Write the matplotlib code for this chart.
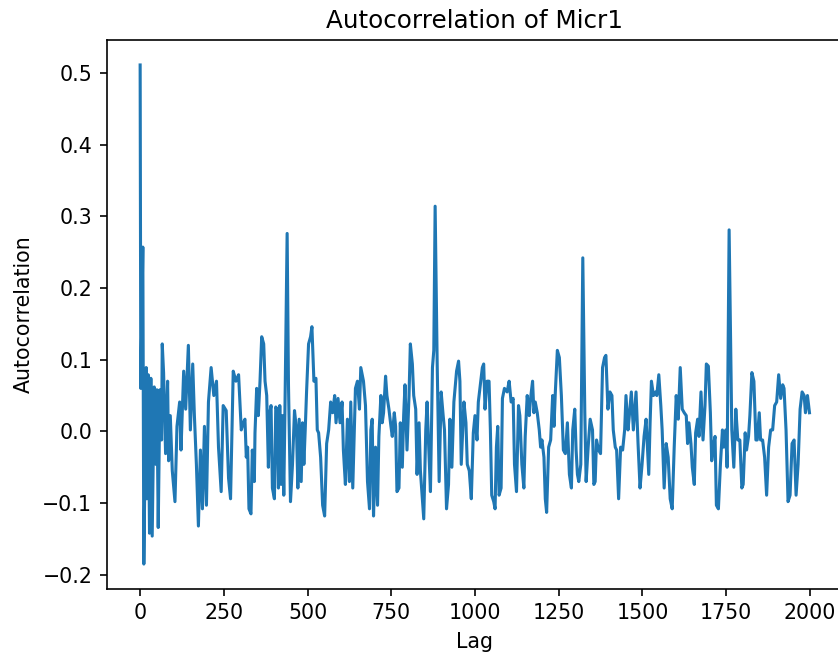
import matplotlib
matplotlib.use("Agg")
import matplotlib.pyplot as plt

# autocorrelation of Micr1, sampled at its turning points
lags = [
    0, 2, 8, 11, 18, 20, 24, 28, 32, 36, 42, 47, 50, 54, 59, 64, 66, 70, 76, 82,
    85, 90, 96, 104, 110, 118, 122, 130, 136, 144, 150, 157, 162, 168, 174, 180,
    186, 192, 198, 204, 212, 220, 228, 234, 242, 248, 257, 264, 270, 278, 286,
    294, 302, 308,
    313, 317, 321, 325, 331, 335, 341, 343, 348, 353, 358, 363, 369, 373, 378,
    383, 387, 391, 395, 401, 405, 409, 413, 417, 421, 425, 429, 433, 439, 443,
    449, 455, 461, 467, 471, 475, 481, 485, 489, 493, 497, 503, 509, 513, 519,
    525, 529, 533, 539, 545, 551, 557, 563, 569, 575, 581, 585, 591, 597, 603,
    607, 613, 619, 625, 629, 635, 643, 649, 655, 659,
    667, 673, 679, 685, 689, 693, 697, 703, 709, 713, 719, 723, 727, 733, 737,
    743, 749, 753, 759, 763, 767, 773, 777, 783, 787, 791, 797, 803, 807, 813,
    817, 823, 827, 833, 837, 843, 847, 853, 857, 861, 867, 873, 877, 881, 887,
    893, 899, 905, 909, 915, 921, 925, 931, 937, 945, 951, 955, 959, 967, 973,
    977, 983, 989, 995,
    1000, 1006, 1010, 1016, 1022, 1026, 1030, 1036, 1042, 1046, 1050, 1056,
    1060, 1064, 1068, 1072, 1078, 1082, 1088, 1096, 1102, 1108, 1114, 1118,
    1124, 1130, 1134, 1140, 1146, 1150, 1156, 1162, 1166, 1172, 1176, 1180,
    1186, 1192, 1196, 1200, 1206, 1210, 1214, 1220, 1226, 1232, 1236, 1240,
    1246, 1252, 1258, 1264, 1270, 1276, 1282, 1288, 1292, 1298, 1302, 1306,
    1310, 1316, 1322, 1328, 1332, 1338, 1344,
    1351, 1355, 1359, 1363, 1369, 1375, 1381, 1387, 1391, 1397, 1403, 1409,
    1413, 1419, 1423, 1429, 1435, 1441, 1447, 1451, 1457, 1461, 1467, 1473,
    1481, 1487, 1493, 1499, 1505, 1511, 1519, 1523, 1527, 1533, 1539, 1543,
    1549, 1555, 1559, 1565, 1571, 1577, 1583, 1589, 1595, 1601, 1607, 1613,
    1619, 1625, 1631, 1635, 1639, 1645, 1649, 1655, 1659, 1665, 1669, 1675,
    1681, 1687,
    1691, 1697, 1703, 1707, 1713, 1717, 1721, 1727, 1733, 1739, 1743, 1749,
    1753, 1759, 1767, 1773, 1779, 1785, 1791, 1797, 1801, 1807, 1811, 1817,
    1821, 1827, 1833, 1839, 1843, 1849, 1853, 1859, 1865, 1871, 1877, 1883,
    1889, 1895, 1901, 1907, 1913, 1919, 1923, 1929, 1935, 1941, 1947, 1953,
    1959, 1965, 1971, 1977, 1983, 1987, 1993, 1999,
]

acf = [
    0.511, 0.060, 0.257, -0.185, 0.089, -0.094, 0.079, -0.142, 0.074, -0.146,
    0.062, -0.046, 0.058, -0.134, 0.058, -0.012, 0.122, 0.082, -0.031, 0.070,
    -0.041, 0.022, -0.055, -0.098, 0.007, 0.041, -0.026, 0.084, 0.031, 0.120,
    0.002, 0.094, 0.022, -0.046, -0.132, -0.026, -0.108, 0.007, -0.103, 0.041,
    0.089, 0.050, 0.070, -0.022, -0.084, 0.036, 0.029, -0.065, -0.094, 0.084,
    0.070, 0.079, 0.002, 0.012,
    0.017, -0.036, -0.022, -0.108, -0.115, -0.026, -0.070, -0.002, 0.060, 0.022,
    0.070, 0.132, 0.122, 0.070, 0.050, -0.050, 0.026, 0.036, -0.079, -0.094,
    0.034, 0.031, -0.079, 0.036, -0.074, 0.022, -0.089, 0.050, 0.276, 0.065,
    -0.098, -0.046, 0.029, 0.002, -0.079, 0.017, -0.070, 0.012, -0.046, 0.002,
    0.055, 0.122, 0.132, 0.146, 0.070, 0.074, 0.002, -0.002, -0.036, -0.103,
    -0.118, -0.017, 0.002, 0.041, 0.026, 0.050, 0.012, 0.046, 0.012, 0.041,
    -0.026, -0.074, 0.017, -0.070, 0.041, -0.079, 0.060, 0.070, 0.031, 0.089,
    0.070, 0.036, -0.070, -0.108, 0.002, 0.017, -0.118, -0.022, -0.103, -0.007,
    0.050, 0.012, 0.026, 0.077, 0.050, 0.031, 0.007, -0.007, 0.026, 0.007,
    -0.084, -0.079, 0.012, -0.050, 0.022, 0.065, -0.026, 0.050, 0.122, 0.094,
    0.050, 0.031, -0.060, 0.012, -0.055, -0.094, -0.122, 0.002, 0.041, -0.012,
    -0.084, 0.089, 0.113, 0.314, 0.098, -0.070, 0.055, 0.022, 0.002, -0.108,
    -0.074, 0.017, -0.050, 0.041, 0.084, 0.098, 0.070, -0.046, 0.041, 0.012,
    -0.046, -0.055, -0.094, -0.002,
    0.022, -0.012, 0.041, 0.065, 0.089, 0.094, 0.031, 0.070, 0.070, 0.002,
    -0.089, -0.098, -0.108, -0.022, 0.007, -0.089, -0.079, 0.046, 0.060, 0.055,
    0.070, 0.041, 0.046, -0.046, -0.084, 0.036, 0.022, -0.046, -0.079, -0.007,
    0.050, 0.022, 0.046, 0.070, 0.026, 0.041, 0.026, 0.002, -0.022, -0.012,
    -0.036, -0.094, -0.113, -0.022, -0.012, 0.050, 0.007, 0.055, 0.113, 0.103,
    0.050, -0.026, -0.031, 0.012, -0.060, -0.079, 0.002, 0.031, -0.026, -0.060,
    -0.070, -0.046, 0.242, 0.026, -0.070, -0.022, 0.017,
    0.002, -0.074, -0.070, -0.012, -0.026, -0.031, 0.089, 0.103, 0.106, 0.031,
    0.055, 0.050, 0.002, -0.022, -0.026, -0.094, -0.022, -0.026, 0.002, 0.050,
    0.002, 0.022, 0.055, 0.002, 0.055, -0.017, -0.079, -0.046, -0.007, 0.017,
    -0.060, 0.012, 0.070, 0.050, 0.055, 0.050, 0.079, 0.036, 0.002, -0.079,
    -0.017, -0.036, -0.094, -0.108, -0.022, 0.050, 0.017, 0.089, 0.031, 0.026,
    0.022, -0.017, 0.012, -0.017, -0.050, -0.074, -0.002, 0.017, -0.007, 0.055,
    -0.012, 0.036,
    0.094, 0.091, 0.026, -0.041, -0.017, -0.007, -0.103, -0.108, -0.046, 0.002,
    -0.022, 0.002, -0.050, 0.281, 0.002, -0.050, 0.031, -0.012, -0.012, -0.079,
    -0.074, -0.002, -0.026, -0.007, 0.022, 0.082, 0.070, -0.012, -0.012, 0.026,
    -0.012, -0.012, -0.036, -0.089, -0.022, 0.002, 0.002, 0.036, 0.041, 0.079,
    0.046, 0.065, 0.060, 0.002, -0.098, -0.089, -0.017, -0.012, -0.089, -0.046,
    0.031, 0.055, 0.050, 0.026, 0.050, 0.026,
]

dpi = 148
fig = plt.figure(figsize=(838 / dpi, 654 / dpi), dpi=dpi)
ax = fig.add_axes([0.1273, 0.0994, 0.8786, 0.8394])

ax.plot(lags, acf, color="#1f77b4", linewidth=1.5)
ax.set_title("Autocorrelation of Micr1")
ax.set_xlabel("Lag")
ax.set_ylabel("Autocorrelation")

fig.savefig("out.png", dpi=dpi)
plt.close(fig)
